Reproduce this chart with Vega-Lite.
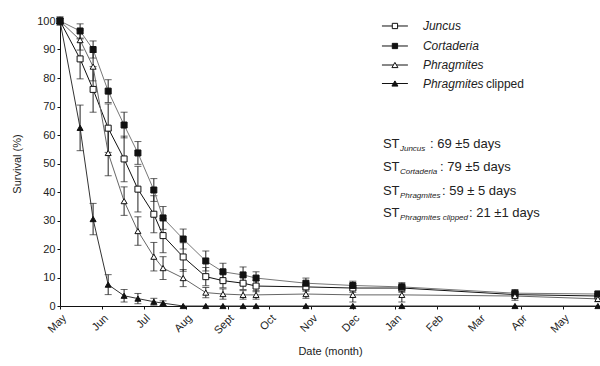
{
  "$schema": "https://vega.github.io/schema/vega-lite/v6.json",
  "width": 540,
  "height": 285,
  "autosize": {"type": "none"},
  "padding": {"left": 60, "top": 21, "right": 0, "bottom": 60},
  "background": "white",
  "config": {
    "view": {"stroke": null},
    "font": "Liberation Sans",
    "axis": {
      "grid": false,
      "domainColor": "#111",
      "tickColor": "#111",
      "labelColor": "#222",
      "titleColor": "#222",
      "labelFont": "Liberation Sans",
      "titleFont": "Liberation Sans",
      "labelFontSize": 11,
      "titleFontSize": 11,
      "titleFontWeight": "normal",
      "tickSize": 3
    },
    "axisX": {
      "values": [0, 1, 2, 3, 4, 5, 6, 7, 8, 9, 10, 11, 12],
      "labelExpr": "['May','Jun','Jul','Aug','Sept','Oct','Nov','Dec','Jan','Feb','Mar','Apr','May'][datum.value]",
      "labelAngle": -45,
      "labelAlign": "right",
      "labelBaseline": "top",
      "labelPadding": 3,
      "titlePadding": 10
    },
    "axisY": {
      "values": [0, 10, 20, 30, 40, 50, 60, 70, 80, 90, 100],
      "titlePadding": 14,
      "labelPadding": 2
    }
  },
  "datasets": {
    "surv": [
      {"s": "Juncus", "m": 0, "v": 100, "e": 1.5},
      {"s": "Juncus", "m": 0.48, "v": 86.7, "e": 7},
      {"s": "Juncus", "m": 0.79, "v": 76, "e": 8},
      {"s": "Juncus", "m": 1.15, "v": 62.4, "e": 8.5},
      {"s": "Juncus", "m": 1.53, "v": 51.6, "e": 8},
      {"s": "Juncus", "m": 1.86, "v": 41, "e": 8},
      {"s": "Juncus", "m": 2.24, "v": 32.2, "e": 6.5},
      {"s": "Juncus", "m": 2.46, "v": 24.7, "e": 6},
      {"s": "Juncus", "m": 2.94, "v": 17.2, "e": 5},
      {"s": "Juncus", "m": 3.48, "v": 10.3, "e": 3.2},
      {"s": "Juncus", "m": 3.89, "v": 8.9, "e": 2.5},
      {"s": "Juncus", "m": 4.37, "v": 8, "e": 2.2},
      {"s": "Juncus", "m": 4.68, "v": 7, "e": 2},
      {"s": "Juncus", "m": 5.87, "v": 6.7, "e": 1.5},
      {"s": "Juncus", "m": 6.99, "v": 6.3, "e": 1.5},
      {"s": "Juncus", "m": 8.16, "v": 6.3, "e": 1.5},
      {"s": "Juncus", "m": 10.86, "v": 4, "e": 1.2},
      {"s": "Juncus", "m": 12.84, "v": 3.5, "e": 1},
      {"s": "Cortaderia", "m": 0, "v": 100, "e": 1},
      {"s": "Cortaderia", "m": 0.48, "v": 96.5, "e": 2.5},
      {"s": "Cortaderia", "m": 0.79, "v": 90, "e": 3},
      {"s": "Cortaderia", "m": 1.15, "v": 75.4, "e": 4},
      {"s": "Cortaderia", "m": 1.53, "v": 63.5, "e": 4.5},
      {"s": "Cortaderia", "m": 1.86, "v": 53.7, "e": 4},
      {"s": "Cortaderia", "m": 2.24, "v": 40.7, "e": 4},
      {"s": "Cortaderia", "m": 2.46, "v": 30.9, "e": 4},
      {"s": "Cortaderia", "m": 2.94, "v": 23.5, "e": 3.5},
      {"s": "Cortaderia", "m": 3.48, "v": 15.8, "e": 3.5},
      {"s": "Cortaderia", "m": 3.89, "v": 12, "e": 3},
      {"s": "Cortaderia", "m": 4.37, "v": 10.9, "e": 2.8},
      {"s": "Cortaderia", "m": 4.68, "v": 9.8, "e": 2.2},
      {"s": "Cortaderia", "m": 5.87, "v": 8, "e": 1.8},
      {"s": "Cortaderia", "m": 6.99, "v": 7.2, "e": 1.5},
      {"s": "Cortaderia", "m": 8.16, "v": 6.7, "e": 1.5},
      {"s": "Cortaderia", "m": 10.86, "v": 4.5, "e": 1.3},
      {"s": "Cortaderia", "m": 12.84, "v": 4.2, "e": 1},
      {"s": "Phragmites", "m": 0, "v": 100, "e": 1},
      {"s": "Phragmites", "m": 0.48, "v": 93.3, "e": 3.5},
      {"s": "Phragmites", "m": 0.79, "v": 84, "e": 5},
      {"s": "Phragmites", "m": 1.15, "v": 53.7, "e": 8},
      {"s": "Phragmites", "m": 1.53, "v": 36.8, "e": 5},
      {"s": "Phragmites", "m": 1.86, "v": 26.3, "e": 5},
      {"s": "Phragmites", "m": 2.24, "v": 17.3, "e": 5},
      {"s": "Phragmites", "m": 2.46, "v": 13.3, "e": 4},
      {"s": "Phragmites", "m": 2.94, "v": 9.8, "e": 3},
      {"s": "Phragmites", "m": 3.48, "v": 4.7, "e": 1.8},
      {"s": "Phragmites", "m": 3.89, "v": 4.2, "e": 1.8},
      {"s": "Phragmites", "m": 4.37, "v": 3.9, "e": 1.5},
      {"s": "Phragmites", "m": 4.68, "v": 3.9, "e": 1.5},
      {"s": "Phragmites", "m": 5.87, "v": 4.2, "e": 1.5},
      {"s": "Phragmites", "m": 6.99, "v": 3.9, "e": 2.5},
      {"s": "Phragmites", "m": 8.16, "v": 3.9, "e": 2.5},
      {"s": "Phragmites", "m": 10.86, "v": 3.5, "e": 1.5},
      {"s": "Phragmites", "m": 12.84, "v": 2.5, "e": 1},
      {"s": "Phragmites clipped", "m": 0, "v": 100, "e": 1},
      {"s": "Phragmites clipped", "m": 0.48, "v": 62.5, "e": 8},
      {"s": "Phragmites clipped", "m": 0.79, "v": 30.5, "e": 5.5},
      {"s": "Phragmites clipped", "m": 1.15, "v": 7.5, "e": 3.5},
      {"s": "Phragmites clipped", "m": 1.53, "v": 3.6, "e": 2.2},
      {"s": "Phragmites clipped", "m": 1.86, "v": 2.6, "e": 1.8},
      {"s": "Phragmites clipped", "m": 2.24, "v": 1.5, "e": 1.2},
      {"s": "Phragmites clipped", "m": 2.46, "v": 1, "e": 0.8},
      {"s": "Phragmites clipped", "m": 2.94, "v": 0, "e": 0},
      {"s": "Phragmites clipped", "m": 3.48, "v": 0, "e": 0},
      {"s": "Phragmites clipped", "m": 3.89, "v": 0, "e": 0},
      {"s": "Phragmites clipped", "m": 4.37, "v": 0, "e": 0},
      {"s": "Phragmites clipped", "m": 4.68, "v": 0, "e": 0},
      {"s": "Phragmites clipped", "m": 5.87, "v": 0, "e": 0},
      {"s": "Phragmites clipped", "m": 6.99, "v": 0, "e": 0},
      {"s": "Phragmites clipped", "m": 8.16, "v": 0, "e": 0},
      {"s": "Phragmites clipped", "m": 10.86, "v": 0, "e": 0},
      {"s": "Phragmites clipped", "m": 12.84, "v": 0, "e": 0}
    ],
    "one": [{"a": 1}]
  },
  "layer": [
    {
      "data": {"name": "surv"},
      "transform": [{"filter": "datum.e > 0"}],
      "mark": {"type": "errorbar", "ticks": {"size": 7}, "color": "#222", "thickness": 1},
      "encoding": {
        "x": {"field": "m", "type": "quantitative", "scale": {"domain": [0, 12.89], "nice": false, "zero": false}, "title": "Date (month)"},
        "y": {"field": "v", "type": "quantitative", "scale": {"domain": [0, 100], "nice": false}, "title": "Survival (%)"},
        "yError": {"field": "e"}
      }
    },
    {
      "data": {"name": "surv"},
      "mark": {"type": "line", "strokeWidth": 1},
      "encoding": {
        "x": {"field": "m", "type": "quantitative", "title": "Date (month)"},
        "y": {"field": "v", "type": "quantitative", "title": "Survival (%)"},
        "color": {
          "field": "s", "type": "nominal",
          "scale": {"domain": ["Juncus", "Cortaderia", "Phragmites", "Phragmites clipped"], "range": ["#111111", "#777777", "#666666", "#333333"]},
          "legend": null
        }
      }
    },
    {
      "data": {"name": "surv"},
      "mark": {"type": "point", "filled": true, "stroke": "#111", "strokeWidth": 1, "opacity": 1, "size": 36},
      "encoding": {
        "x": {"field": "m", "type": "quantitative", "title": "Date (month)"},
        "y": {"field": "v", "type": "quantitative", "title": "Survival (%)"},
        "shape": {
          "field": "s", "type": "nominal",
          "scale": {"domain": ["Juncus", "Cortaderia", "Phragmites", "Phragmites clipped"], "range": ["square", "square", "triangle-up", "triangle-up"]},
          "legend": null
        },
        "fill": {
          "field": "s", "type": "nominal",
          "scale": {"domain": ["Juncus", "Cortaderia", "Phragmites", "Phragmites clipped"], "range": ["#ffffff", "#111111", "#ffffff", "#111111"]},
          "legend": null
        }
      }
    },
    {
      "data": {"name": "one"},
      "mark": {"type": "rule", "color": "#111", "strokeWidth": 1},
      "encoding": {"x": {"datum": 7.685}, "x2": {"datum": 8.305}, "y": {"datum": 98.25}}
    },
    {
      "data": {"name": "one"},
      "mark": {"type": "rule", "color": "#111", "strokeWidth": 1},
      "encoding": {"x": {"datum": 7.685}, "x2": {"datum": 8.305}, "y": {"datum": 91.23}}
    },
    {
      "data": {"name": "one"},
      "mark": {"type": "rule", "color": "#111", "strokeWidth": 1},
      "encoding": {"x": {"datum": 7.685}, "x2": {"datum": 8.305}, "y": {"datum": 84.56}}
    },
    {
      "data": {"name": "one"},
      "mark": {"type": "rule", "color": "#111", "strokeWidth": 1},
      "encoding": {"x": {"datum": 7.685}, "x2": {"datum": 8.305}, "y": {"datum": 78.07}}
    },
    {
      "data": {"name": "one"},
      "mark": {"type": "point", "shape": "square", "filled": true, "fill": "#ffffff", "stroke": "#111", "strokeWidth": 1, "opacity": 1, "size": 28},
      "encoding": {"x": {"datum": 7.995}, "y": {"datum": 98.25}}
    },
    {
      "data": {"name": "one"},
      "mark": {"type": "point", "shape": "square", "filled": true, "fill": "#111111", "stroke": "#111", "strokeWidth": 1, "opacity": 1, "size": 28},
      "encoding": {"x": {"datum": 7.995}, "y": {"datum": 91.23}}
    },
    {
      "data": {"name": "one"},
      "mark": {"type": "point", "shape": "triangle-up", "filled": true, "fill": "#ffffff", "stroke": "#111", "strokeWidth": 1, "opacity": 1, "size": 36},
      "encoding": {"x": {"datum": 7.995}, "y": {"datum": 84.56}}
    },
    {
      "data": {"name": "one"},
      "mark": {"type": "point", "shape": "triangle-up", "filled": true, "fill": "#111111", "stroke": "#111", "strokeWidth": 1, "opacity": 1, "size": 36},
      "encoding": {"x": {"datum": 7.995}, "y": {"datum": 78.07}}
    },
    {
      "data": {"name": "one"},
      "mark": {"type": "text", "align": "left", "baseline": "middle", "fontSize": 12, "fontStyle": "italic", "color": "#222"},
      "encoding": {"x": {"datum": 8.663}, "y": {"datum": 98.25}, "text": {"value": "Juncus"}}
    },
    {
      "data": {"name": "one"},
      "mark": {"type": "text", "align": "left", "baseline": "middle", "fontSize": 12, "fontStyle": "italic", "color": "#222"},
      "encoding": {"x": {"datum": 8.663}, "y": {"datum": 91.23}, "text": {"value": "Cortaderia"}}
    },
    {
      "data": {"name": "one"},
      "mark": {"type": "text", "align": "left", "baseline": "middle", "fontSize": 12, "fontStyle": "italic", "color": "#222"},
      "encoding": {"x": {"datum": 8.663}, "y": {"datum": 84.56}, "text": {"value": "Phragmites"}}
    },
    {
      "data": {"name": "one"},
      "mark": {"type": "text", "align": "left", "baseline": "middle", "fontSize": 12, "fontStyle": "italic", "color": "#222"},
      "encoding": {"x": {"datum": 8.663}, "y": {"datum": 78.07}, "text": {"value": "Phragmites"}}
    },
    {
      "data": {"name": "one"},
      "mark": {"type": "text", "align": "left", "baseline": "middle", "fontSize": 12, "color": "#222", "dx": 63},
      "encoding": {"x": {"datum": 8.663}, "y": {"datum": 78.07}, "text": {"value": "clipped"}}
    },
    {
      "data": {"name": "one"},
      "mark": {"type": "text", "align": "left", "baseline": "middle", "fontSize": 13, "color": "#222"},
      "encoding": {"x": {"datum": 7.709}, "y": {"datum": 56.84}, "text": {"value": "ST"}}
    },
    {
      "data": {"name": "one"},
      "mark": {"type": "text", "align": "left", "baseline": "middle", "fontSize": 8, "fontStyle": "italic", "color": "#222", "dx": 17, "dy": 5},
      "encoding": {"x": {"datum": 7.709}, "y": {"datum": 56.84}, "text": {"value": "Juncus"}}
    },
    {
      "data": {"name": "one"},
      "mark": {"type": "text", "align": "left", "baseline": "middle", "fontSize": 13, "color": "#222", "dx": 47},
      "encoding": {"x": {"datum": 7.709}, "y": {"datum": 56.84}, "text": {"value": ": 69 ±5 days"}}
    },
    {
      "data": {"name": "one"},
      "mark": {"type": "text", "align": "left", "baseline": "middle", "fontSize": 13, "color": "#222"},
      "encoding": {"x": {"datum": 7.709}, "y": {"datum": 48.77}, "text": {"value": "ST"}}
    },
    {
      "data": {"name": "one"},
      "mark": {"type": "text", "align": "left", "baseline": "middle", "fontSize": 8, "fontStyle": "italic", "color": "#222", "dx": 17, "dy": 5},
      "encoding": {"x": {"datum": 7.709}, "y": {"datum": 48.77}, "text": {"value": "Cortaderia"}}
    },
    {
      "data": {"name": "one"},
      "mark": {"type": "text", "align": "left", "baseline": "middle", "fontSize": 13, "color": "#222", "dx": 57},
      "encoding": {"x": {"datum": 7.709}, "y": {"datum": 48.77}, "text": {"value": ": 79 ±5 days"}}
    },
    {
      "data": {"name": "one"},
      "mark": {"type": "text", "align": "left", "baseline": "middle", "fontSize": 13, "color": "#222"},
      "encoding": {"x": {"datum": 7.709}, "y": {"datum": 40.35}, "text": {"value": "ST"}}
    },
    {
      "data": {"name": "one"},
      "mark": {"type": "text", "align": "left", "baseline": "middle", "fontSize": 8, "fontStyle": "italic", "color": "#222", "dx": 17, "dy": 5},
      "encoding": {"x": {"datum": 7.709}, "y": {"datum": 40.35}, "text": {"value": "Phragmites"}}
    },
    {
      "data": {"name": "one"},
      "mark": {"type": "text", "align": "left", "baseline": "middle", "fontSize": 13, "color": "#222", "dx": 59},
      "encoding": {"x": {"datum": 7.709}, "y": {"datum": 40.35}, "text": {"value": ": 59 ± 5 days"}}
    },
    {
      "data": {"name": "one"},
      "mark": {"type": "text", "align": "left", "baseline": "middle", "fontSize": 13, "color": "#222"},
      "encoding": {"x": {"datum": 7.709}, "y": {"datum": 32.63}, "text": {"value": "ST"}}
    },
    {
      "data": {"name": "one"},
      "mark": {"type": "text", "align": "left", "baseline": "middle", "fontSize": 8, "fontStyle": "italic", "color": "#222", "dx": 17, "dy": 5},
      "encoding": {"x": {"datum": 7.709}, "y": {"datum": 32.63}, "text": {"value": "Phragmites clipped"}}
    },
    {
      "data": {"name": "one"},
      "mark": {"type": "text", "align": "left", "baseline": "middle", "fontSize": 13, "color": "#222", "dx": 86},
      "encoding": {"x": {"datum": 7.709}, "y": {"datum": 32.63}, "text": {"value": ": 21 ±1 days"}}
    }
  ]
}
